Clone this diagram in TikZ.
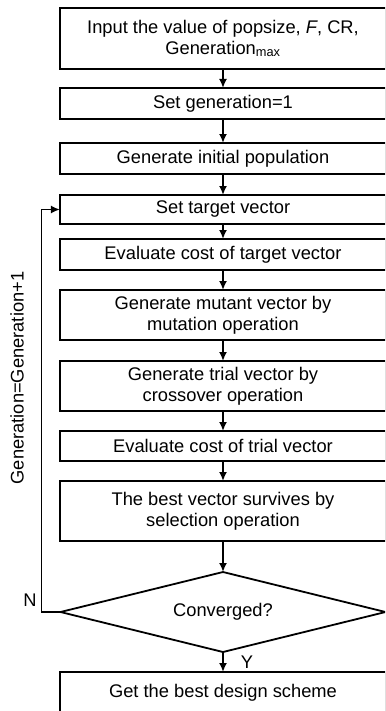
\documentclass[tikz,border=0pt]{standalone}
\usepackage{fontspec}
\setmainfont{Liberation Sans}
\usetikzlibrary{arrows.meta,positioning,shapes.geometric}

\begin{document}
\begin{tikzpicture}[>={Latex[length=9bp,width=8bp]}, x=1bp, y=1bp, line width=1.8bp, font=\fontsize{18.3bp}{21bp}\selectfont]
        \tikzset{block/.style= {draw, rectangle, align=center, minimum width=326bp, inner sep=0pt, outer sep=0pt},
        decision/.style={draw, diamond, aspect=4, align=center, minimum width=325bp, minimum height=80bp, inner sep=0pt, outer sep=0pt},
        }
        \useasboundingbox (0,0) rectangle (385,-711);
        \clip (0,0) rectangle (385,-711);
        \node [block, minimum height=61bp] (input) at (223,-38.5) {Input the value of popsize, \textit{F}, CR,\\Generation\textsubscript{max}};
        \node [block, minimum height=31bp, below=19bp of input] (setgen) {Set generation=1};
        \node [block, minimum height=31bp, below=24bp of setgen] (initpop) {Generate initial population};
        \node [block, minimum height=29bp, below=21bp of initpop] (target) {Set target vector};
        \node [block, minimum height=31bp, below=15bp of target] (costtarget) {Evaluate cost of target vector};
        \node [block, minimum height=50bp, below=20bp of costtarget] (mutant) {Generate mutant vector by\\mutation operation};
        \node [block, minimum height=50bp, below=21bp of mutant] (trial) {Generate trial vector by\\crossover operation};
        \node [block, minimum height=30bp, below=20bp of trial] (costtrial) {Evaluate cost of trial vector};
        \node [block, minimum height=60bp, below=20bp of costtrial] (select) {The best vector survives by\\selection operation};
        \node [decision, below=31bp of select] (conv) {Converged?};
        \node [block, minimum height=42bp, below=20bp of conv] (best) {Get the best design scheme};
        \node [coordinate, left=19bp of conv.west] (b1) {};  %% corner of the loop back
        \node [rotate=90] (genlabel) at (17,-378) {Generation=Generation+1};
        \node [anchor=south east, inner sep=1bp] (nlabel) at ([xshift=-3bp,yshift=4bp]b1) {N};
        \node [anchor=west, inner sep=1bp] (ylabel) at ([xshift=16bp,yshift=-10bp]conv.south) {Y};

%% paths
        \path[draw,->] (input) edge (setgen)
                    (setgen) edge (initpop)
                    (initpop) edge (target)
                    (target) edge (costtarget)
                    (costtarget) edge (mutant)
                    (mutant) edge (trial)
                    (trial) edge (costtrial)
                    (costtrial) edge (select)
                    (select) edge (conv)
                    (conv) edge (best)
                    (conv.west) -- (b1) |- (target.west)
                    ;
    \end{tikzpicture}
\end{document}
